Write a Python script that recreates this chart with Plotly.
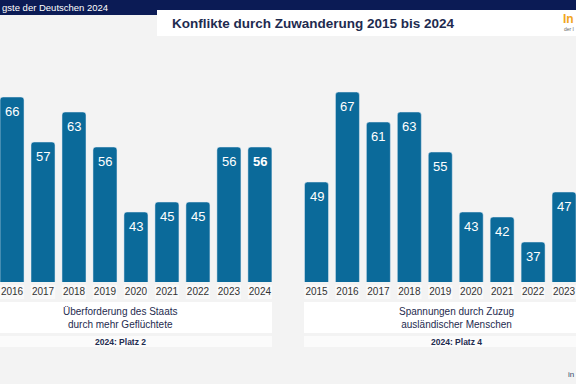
import plotly.graph_objects as go

# ---- data ----
years_left = ["2016", "2017", "2018", "2019", "2020", "2021", "2022", "2023", "2024"]
vals_left = [66, 57, 63, 56, 43, 45, 45, 56, 56]
years_right = ["2015", "2016", "2017", "2018", "2019", "2020", "2021", "2022", "2023"]
vals_right = [49, 67, 61, 63, 55, 43, 42, 37, 47]

title = "Konflikte durch Zuwanderung 2015 bis 2024"
header = "gste der Deutschen 2024"
cat_left = "Überforderung des Staats<br>durch mehr Geflüchtete"
cat_right = "Spannungen durch Zuzug<br>ausländischer Menschen"
rank_left = "2024: Platz 2"
rank_right = "2024: Platz 4"

W, H = 576, 384
BAR = "#0b6a9a"
NAVY = "#0b1b55"
TXT = "#1e2b4f"
FONT = "Arial, Liberation Sans, sans-serif"
BG = "#f3f3f3"


def px(x):
    return x / W


def py(y):
    return 1 - y / H


fig = go.Figure()
fig.add_trace(go.Bar(x=years_left, y=vals_left, marker_color=BAR, xaxis="x", yaxis="y",
                     hoverinfo="skip", showlegend=False))
fig.add_trace(go.Bar(x=years_right, y=vals_right, marker_color=BAR, xaxis="x2", yaxis="y2",
                     hoverinfo="skip", showlegend=False))

ydom = [py(282), py(36)]
yrange = [29, 29 + (282 - 36) / 5]
axis_common = dict(type="category", showgrid=False, zeroline=False, showline=False,
                   ticks="", ticklabelstandoff=2,
                   tickfont=dict(family=FONT, size=10, color="#333333"),
                   fixedrange=True)

fig.update_layout(
    width=W, height=H,
    margin=dict(l=0, r=0, t=0, b=0),
    paper_bgcolor=BG, plot_bgcolor="rgba(0,0,0,0)",
    bargap=0.225,
    barcornerradius=3,
    xaxis=dict(domain=[0, px(272)], range=[-0.388, 8.39], anchor="y", **axis_common),
    xaxis2=dict(domain=[px(304), 1], range=[-0.404, 8.387], anchor="y2", **axis_common),
    yaxis=dict(domain=ydom, range=yrange, visible=False, fixedrange=True),
    yaxis2=dict(domain=ydom, range=yrange, visible=False, fixedrange=True, anchor="x2"),
)

shapes = []
# header
shapes.append(dict(type="rect", xref="paper", yref="paper", x0=0, x1=1, y0=py(10), y1=1,
                   fillcolor=NAVY, line_width=0, layer="below"))
shapes.append(dict(type="rect", xref="paper", yref="paper", x0=0, x1=px(157), y0=py(15), y1=1,
                   fillcolor=NAVY, line_width=0, layer="below"))
shapes.append(dict(type="rect", xref="paper", yref="paper", x0=px(157), x1=1, y0=py(36), y1=py(10),
                   fillcolor="white", line_width=0, layer="below"))
# panel boxes
for x0, x1 in [(0, 272), (304, 576)]:
    shapes.append(dict(type="rect", xref="paper", yref="paper", x0=px(x0), x1=px(x1),
                       y0=py(333), y1=py(302), fillcolor="white", line_width=0, layer="below"))
    shapes.append(dict(type="rect", xref="paper", yref="paper", x0=px(x0), x1=px(x1),
                       y0=py(347), y1=py(336), fillcolor="#fbfbfb", line_width=0, layer="below"))
# year label cells
for xr, yrs in [("x", years_left), ("x2", years_right)]:
    for i in range(len(yrs)):
        shapes.append(dict(type="rect", xref=xr, yref="paper", x0=i - 0.39, x1=i + 0.39,
                           y0=py(299), y1=py(285), fillcolor="#f9f9f9", line_width=0, layer="below"))
fig.update_layout(shapes=shapes)

ann = []
for xr, yr, yrs, vals in [("x", "y", years_left, vals_left), ("x2", "y2", years_right, vals_right)]:
    for i, v in enumerate(vals):
        t = str(v)
        if xr == "x" and i == len(vals) - 1:
            t = "<b>" + t + "</b>"
        ann.append(dict(x=i, y=v, xref=xr, yref=yr, text=t, showarrow=False,
                        yanchor="middle", yshift=-14,
                        font=dict(family=FONT, size=13, color="white")))

ann.append(dict(x=px(170), y=py(23), xref="paper", yref="paper", xanchor="left", yanchor="middle",
                text="<b>" + title + "</b>", showarrow=False,
                font=dict(family=FONT, size=13.5, color=TXT)))
ann.append(dict(x=0, y=py(7.5), xref="paper", yref="paper", xanchor="left", yanchor="middle",
                text=header, showarrow=False, font=dict(family=FONT, size=9.5, color="white")))
ann.append(dict(x=1, y=py(19), xref="paper", yref="paper", xanchor="right", yanchor="middle",
                text="<b>In</b>", showarrow=False, font=dict(family=FONT, size=12, color="#f2a51c")))
ann.append(dict(x=1, y=py(29), xref="paper", yref="paper", xanchor="right", yanchor="middle",
                text="der I", showarrow=False, font=dict(family=FONT, size=5, color="#666666")))
ann.append(dict(x=1, y=py(374), xref="paper", yref="paper", xanchor="right", yanchor="middle",
                text="in", showarrow=False, font=dict(family=FONT, size=8, color="#3a4a6a")))

for cx, cat, rank in [(120, cat_left, rank_left), (456, cat_right, rank_right)]:
    ann.append(dict(x=px(cx), y=py(317.5), xref="paper", yref="paper", xanchor="center",
                    yanchor="middle", text=cat, showarrow=False,
                    font=dict(family=FONT, size=10, color=TXT)))
    ann.append(dict(x=px(cx), y=py(341.5), xref="paper", yref="paper", xanchor="center",
                    yanchor="middle", text="<b>" + rank + "</b>", showarrow=False,
                    font=dict(family=FONT, size=8.5, color=TXT)))

fig.update_layout(annotations=ann)
fig.write_html("out.html", config={"displayModeBar": False},
               post_script="document.body.style.margin='0';document.body.style.overflow='hidden';")
